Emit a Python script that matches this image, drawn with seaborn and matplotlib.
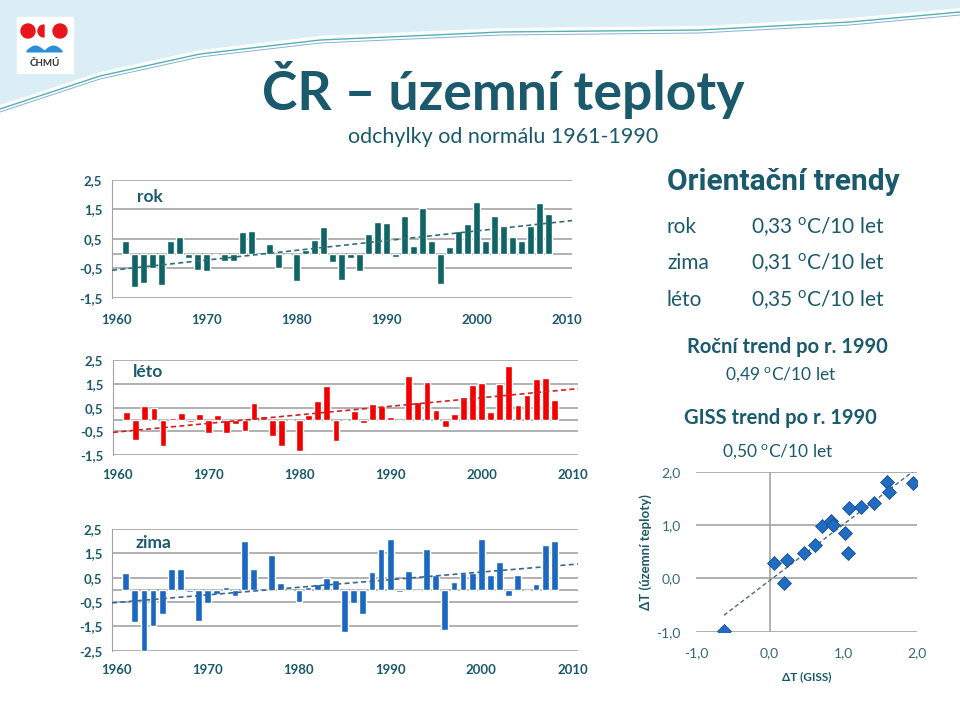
import numpy as np
import matplotlib
matplotlib.use("Agg")
import matplotlib.pyplot as plt
from matplotlib.patches import Polygon, Circle, Rectangle, Wedge
from matplotlib import font_manager
import seaborn as sns

# anomalies from 1961-1990 normal, years 1961-2008
years = np.arange(1961, 2009)

rok = [0.44, -1.14, -1.00, -0.50, -1.08, 0.42, 0.55, -0.15, -0.56, -0.60,
       0.00, -0.24, -0.24, 0.73, 0.75, 0.06, 0.31, -0.48, 0.00, -0.94,
       0.11, 0.45, 0.90, -0.27, -0.89, -0.15, -0.59, 0.65, 1.07, 1.05,
       -0.12, 1.26, 0.26, 1.56, 0.43, -1.02, 0.23, 0.78, 1.02, 1.74,
       0.41, 1.27, 0.93, 0.56, 0.42, 0.93, 1.73, 1.35]

leto = [0.31, -0.85, 0.59, 0.50, -1.09, 0.06, 0.29, -0.10, 0.24, -0.56,
        0.18, -0.56, -0.18, -0.49, 0.71, 0.14, -0.71, -1.13, 0.00, -1.34,
        0.18, 0.77, 1.40, -0.88, 0.00, 0.35, -0.13, 0.64, 0.56, 0.11,
        -0.07, 1.84, 0.73, 1.56, 0.39, -0.31, 0.24, 0.96, 1.44, 1.52,
        0.31, 1.51, 2.26, 0.61, 1.01, 1.72, 1.73, 0.84]

zima = [0.68, -1.34, -2.50, -1.47, -0.98, 0.87, 0.87, -0.09, -1.27, -0.55,
        -0.16, 0.12, -0.24, 2.02, 0.87, 0.06, 1.43, 0.27, 0.00, -0.49,
        0.12, 0.24, 0.50, 0.40, -1.72, -0.56, -0.99, 0.74, 1.69, 2.07,
        -0.07, 0.78, -0.05, 1.66, 0.59, -1.66, 0.32, 0.71, 0.71, 2.07,
        0.62, 1.15, -0.26, 0.60, -0.05, 0.26, 1.86, 1.99]

# territorial vs GISS anomalies
giss = [-0.62, 0.06, 0.19, 0.24, 0.46, 0.62, 0.71, 0.83, 0.86, 1.02,
        1.07, 1.08, 1.24, 1.41, 1.59, 1.62, 1.94]
uzemni = [-0.98, 0.29, -0.08, 0.34, 0.48, 0.63, 0.99, 1.08, 1.01, 0.86,
          0.47, 1.32, 1.33, 1.42, 1.80, 1.62, 1.79]

decade_ticks = [1960, 1970, 1980, 1990, 2000, 2010]
trend_rows = [("rok", "0,33"), ("zima", "0,31"), ("léto", "0,35")]

TEAL = "#1b5a6c"
GRID = "#a3a3a3"

sns.set_style("white")
installed = {f.name for f in font_manager.fontManager.ttflist}
narrow = "Liberation Sans Narrow" if "Liberation Sans Narrow" in installed else "Roboto"
plt.rcParams["font.family"] = ["Lato", "DejaVu Sans"]
plt.rcParams["mathtext.fontset"] = "custom"
plt.rcParams["mathtext.rm"] = "Lato"

W, H = 960, 720
fig = plt.figure(figsize=(9.6, 7.2), dpi=100)


def px_axes(l, t, r, b, **kw):
    return fig.add_axes([l / W, 1 - b / H, (r - l) / W, (b - t) / H], **kw)


def comma(v, fmt="{:.1f}"):
    return fmt.format(v).replace(".", ",")


# background swoosh + logo
bg = fig.add_axes([0, 0, 1, 1], zorder=-10)
bg.set_xlim(0, W)
bg.set_ylim(H, 0)
bg.axis("off")
cx = np.linspace(0, W, 200)
cy = np.interp(cx, [0, 100, 200, 320, 500, 700, 850, 960],
               [105, 72, 50, 36, 28, 26, 18, 8])
bg.add_patch(Polygon(np.column_stack([np.r_[cx, W, 0], np.r_[cy, 0, 0]]),
                     closed=True, color="#dbeef5", lw=0))
bg.plot(cx, cy + 4, color="#2a9d9c", lw=1.0, alpha=0.8)
bg.plot(cx, cy + 7, color="#3a7cc0", lw=0.7, alpha=0.6)
bg.add_patch(Rectangle((17, 17), 56, 56, color="white"))
bg.add_patch(Circle((28, 31), 7, color="#e8161c"))
bg.add_patch(Circle((60, 31), 7, color="#e8161c"))
bg.add_patch(Wedge((44, 31), 6, 90, 270, color="#e8161c"))
wx = np.linspace(26, 62, 60)
bg.fill_between(wx, 50 - 5 * np.abs(np.sin((wx - 26) / 36 * 2 * np.pi)), 52,
                color="#2a8fd8", lw=0)
bg.text(44.5, 63, "ČHMÚ", ha="center", va="center", fontsize=7,
        fontweight="bold", color="#333333")

# titles
fig.text(503 / W, 1 - 90 / H, "ČR – územní teploty", ha="center", va="center",
         fontsize=38.5, fontweight="bold", color=TEAL)
fig.text(503 / W, 1 - 137 / H, "odchylky od normálu 1961-1990", ha="center",
         va="center", fontsize=15.5, color=TEAL)


def bar_panel(rect, vals, color, trend_color, name, yt, lab_xy, xpad):
    ax = px_axes(*rect)
    ax.set_facecolor("none")
    sns.barplot(x=years, y=vals, native_scale=True, color=color, width=0.74,
                saturation=1, errorbar=None, ax=ax, zorder=3)
    ax.set_xlim(1959.5, 2010.6)
    ax.set_ylim(yt[0], yt[-1])
    ax.set_yticks(yt)
    ax.set_yticklabels([comma(v) for v in yt])
    ax.set_xticks(decade_ticks)
    ax.set_xticklabels([str(d) for d in decade_ticks])
    ax.yaxis.grid(True, color=GRID, lw=1.2)
    ax.axhline(0, color=GRID, lw=1.2, zorder=1)
    ax.set_axisbelow(True)
    for s in ["top", "right", "bottom"]:
        ax.spines[s].set_visible(False)
    ax.spines["left"].set_color(GRID)
    ax.tick_params(axis="y", length=0, pad=7, labelsize=9.5, labelcolor=TEAL)
    ax.tick_params(axis="x", length=0, pad=xpad, labelsize=9.5, labelcolor=TEAL)
    for t in ax.get_xticklabels() + ax.get_yticklabels():
        t.set_fontweight("bold")
    coef = np.polyfit(years, vals, 1)
    xs = np.array(ax.get_xlim())
    ax.plot(xs, np.polyval(coef, xs), ls=(0, (3, 2)), color=trend_color,
            lw=1.2, zorder=4)
    ax.text(*lab_xy, name, transform=ax.transAxes, ha="center", va="center",
            fontsize=12.5, fontweight="bold", color=TEAL)
    ax.set_xlabel("")
    ax.set_ylabel("")
    return ax


bar_panel((112, 180, 572, 297.7), rok, "#0e6466", "#2f6f72", "rok",
          [-1.5, -0.5, 0.5, 1.5, 2.5], (0.083, 0.855), 12)
bar_panel((113, 360, 578, 455.3), leto, "#f20000", "#d42020", "léto",
          [-1.5, -0.5, 0.5, 1.5, 2.5], (0.075, 0.874), 10)
bar_panel((112, 529, 578, 650.7), zima, "#1a68c2", "#3b6690", "zima",
          [-2.5, -1.5, -0.5, 0.5, 1.5, 2.5], (0.088, 0.885), 9.5)

# right-hand trend text
fig.text(667 / W, 1 - 182 / H, "Orientační trendy", ha="left", va="center",
         fontsize=21.5, fontweight="bold", color=TEAL, family=narrow)
for i, (name, val) in enumerate(trend_rows):
    y = 1 - (227 + 36.5 * i) / H
    fig.text(667 / W, y, name, ha="left", va="center", fontsize=15, color=TEAL)
    fig.text(751 / W, y, val + r" $^{\mathrm{o}}$C/10 let", ha="left",
             va="center", fontsize=15, color=TEAL)
fig.text(787 / W, 1 - 347 / H, "Roční trend po r. 1990", ha="center",
         va="center", fontsize=14.5, fontweight="bold", color=TEAL)
fig.text(781 / W, 1 - 375 / H, r"0,49 $^{\mathrm{o}}$C/10 let", ha="center",
         va="center", fontsize=12.5, color=TEAL)
fig.text(780 / W, 1 - 418 / H, "GISS trend po r. 1990", ha="center",
         va="center", fontsize=14.5, fontweight="bold", color=TEAL)
fig.text(778 / W, 1 - 452 / H, r"0,50 $^{\mathrm{o}}$C/10 let", ha="center",
         va="center", fontsize=12.5, color=TEAL)

# scatter GISS vs territorial
sx = px_axes(696, 471.7, 917, 631.7)
sx.set_facecolor("none")
sns.scatterplot(x=giss, y=uzemni, marker="D", s=50, color="#1f6cc2",
                edgecolor="#1a4f8a", linewidth=0.6, ax=sx, zorder=4)
c2 = np.polyfit(giss, uzemni, 1)
gx = np.array([min(giss), max(giss)])
sx.plot(gx, np.polyval(c2, gx), ls=(0, (3, 2)), color="#4b6a78", lw=1.0, zorder=3)
sx.set_xlim(-1, 2)
sx.set_ylim(-1, 2)
st = [-1, 0, 1, 2]
sx.set_xticks(st)
sx.set_yticks(st)
sx.set_xticklabels([comma(v) for v in st])
sx.set_yticklabels([comma(v) for v in st])
sx.yaxis.grid(True, color=GRID, lw=1.2)
sx.axvline(0, color=GRID, lw=1.2, zorder=1)
sx.set_axisbelow(True)
for s in sx.spines.values():
    s.set_visible(False)
sx.tick_params(length=0, labelsize=10, labelcolor="#36687a")
sx.tick_params(axis="x", pad=11)
sx.tick_params(axis="y", pad=11)
sx.set_xlabel("ΔT (GISS)", fontsize=8.5, fontweight="bold", color=TEAL, labelpad=9)
sx.set_ylabel("ΔT (územní teploty)", fontsize=9.5, fontweight="bold", color=TEAL,
              labelpad=3)

fig.savefig("out.png", dpi=100)
